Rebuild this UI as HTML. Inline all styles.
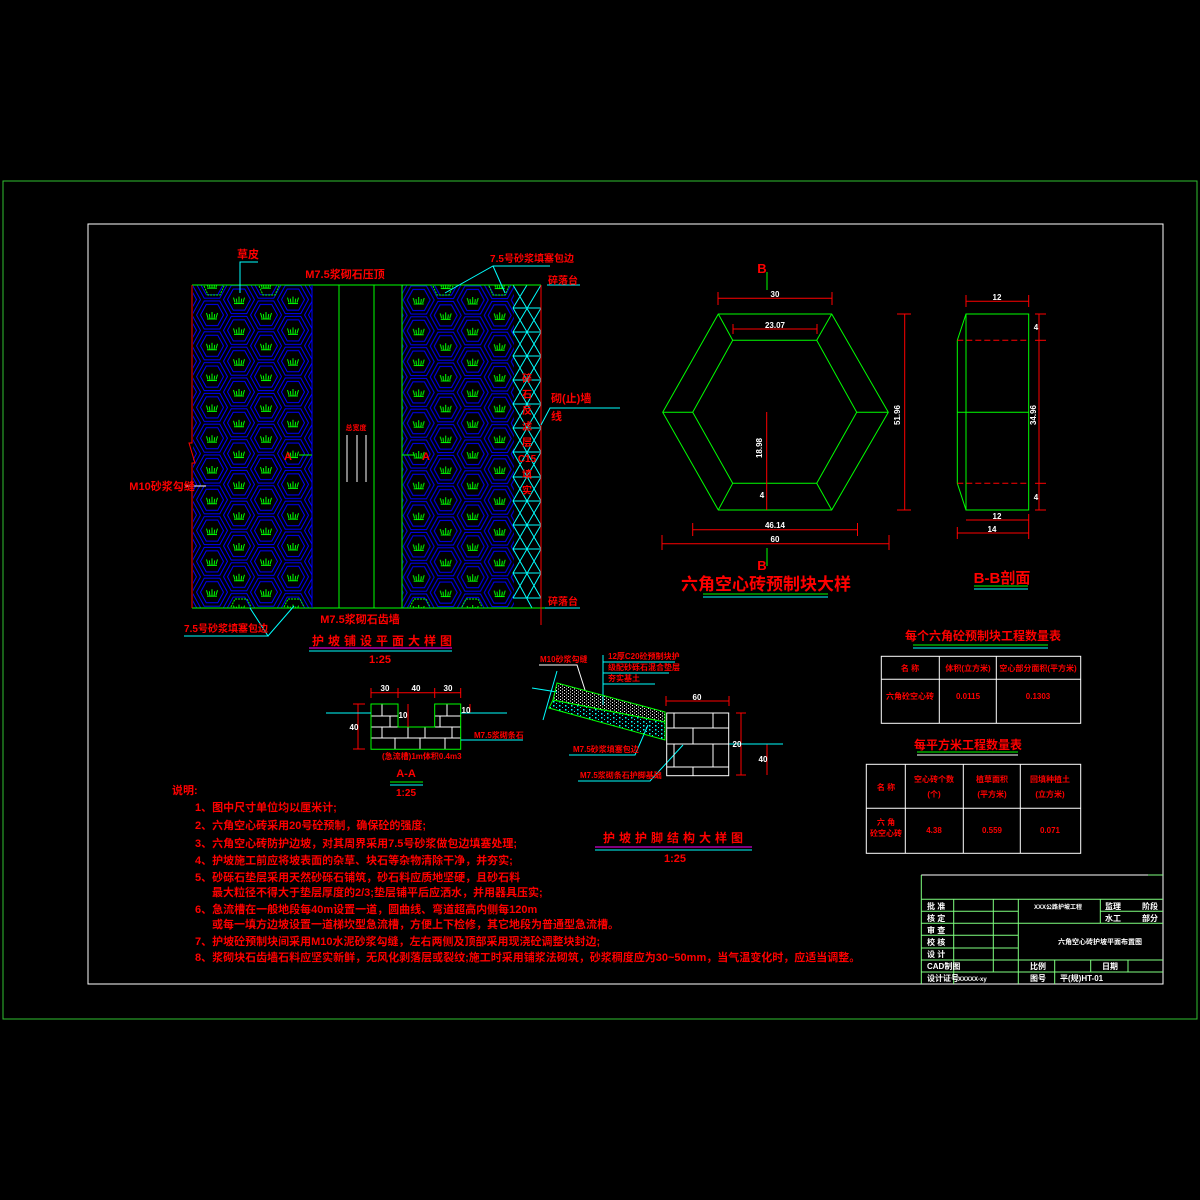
<!DOCTYPE html>
<html><head><meta charset="utf-8">
<style>
html,body{margin:0;padding:0;background:#000;}
svg{display:block;}
text{font-family:"Liberation Sans","Noto Sans CJK SC",sans-serif;font-weight:bold;}
.r{fill:#ff0000;}
.w{fill:#fff;}
</style></head>
<body>
<svg width="1200" height="1200" viewBox="0 0 1200 1200" xmlns="http://www.w3.org/2000/svg">
<defs>
<g id="cell">
<polygon points="-15.5,0 -7.75,-14 7.75,-14 15.5,0 7.75,14 -7.75,14" fill="none" stroke="#0000ff"/>
<polygon points="-11.5,0 -5.75,-10.5 5.75,-10.5 11.5,0 5.75,10.5 -5.75,10.5" fill="none" stroke="#0000ff"/>
<path d="M-5,4h10M0,4v-7M-4,3l-1.5,-5M4,3l1.5,-5M-2,4l-0.7,-5M2,4l0.7,-5" stroke="#00ff00" fill="none"/>
</g>
<pattern id="pl" patternUnits="userSpaceOnUse" x="198.5" y="299.6" width="54" height="30.8">
<use href="#cell" x="13.5" y="15.4"/><use href="#cell" x="67.5" y="15.4"/>
<use href="#cell" x="40.5" y="0"/><use href="#cell" x="40.5" y="30.8"/>
<use href="#cell" x="-13.5" y="0"/><use href="#cell" x="-13.5" y="30.8"/>
</pattern>
<pattern id="pr" patternUnits="userSpaceOnUse" x="405.2" y="284.6" width="54" height="30.8">
<use href="#cell" x="13.5" y="15.4"/><use href="#cell" x="67.5" y="15.4"/>
<use href="#cell" x="40.5" y="0"/><use href="#cell" x="40.5" y="30.8"/>
<use href="#cell" x="-13.5" y="0"/><use href="#cell" x="-13.5" y="30.8"/>
</pattern>
<pattern id="dw" patternUnits="userSpaceOnUse" width="4" height="3">
<rect x="0" y="0" width="1" height="1" fill="#fff"/><rect x="2" y="1.5" width="1" height="1" fill="#fff"/>
</pattern>
<pattern id="dc" patternUnits="userSpaceOnUse" width="6" height="4">
<rect x="1" y="1" width="1.5" height="1.5" fill="#00ffff"/><rect x="4" y="3" width="1" height="1" fill="#00ffff"/>
</pattern>
</defs>
<rect width="1200" height="1200" fill="#000"/>
<rect x="3" y="181" width="1194" height="838" fill="none" stroke="#2fbf2f" stroke-width="1"/>
<rect x="88" y="224" width="1075" height="760" fill="none" stroke="#fff" stroke-width="1"/>

<rect x="193" y="285" width="119" height="323" fill="url(#pl)"/>
<rect x="402" y="285" width="112" height="323" fill="url(#pr)"/>

<g fill="none" stroke="#00ff00" stroke-dasharray="2,1">
<path d="M204,286l4,9h12l4,-9M259,286l4,9h12l4,-9M433,286l4,9h12l4,-9M489,286l4,9h12l4,-9"/>
<path d="M231,607l4,-8h12l4,8M284,607l4,-8h12l4,8M410,607l4,-8h12l4,8M462,607l4,-8h12l4,8"/>
</g>

<path fill="none" stroke="#00ffff" d="M513,308H541M513,332H541M513,356H541M513,380H541M513,404H541M513,428H541M513,452H541M513,477H541M513,501H541M513,525H541M513,549H541M513,573H541M513,598H541
M541,285L513,332L541,380L513,428L541,477L513,525L541,573L527,598
M513,308L541,356L513,404L541,452L513,501L541,549L513,598
M527,285L513,308M513,285L541,332L513,380L541,428L513,477L541,525L513,573L532,608
M541,308L513,356L541,404L513,452L541,501L513,549L541,598"/>

<g fill="none" stroke-width="1">
<line x1="192" y1="285" x2="541" y2="285" stroke="#00ff00"/>
<line x1="192" y1="608" x2="580" y2="608" stroke="#00ff00"/>
<polyline points="192,285 192,443 189,443 195,463 192,463 192,608" stroke="#ff0000"/>
<line x1="541" y1="285" x2="541" y2="625" stroke="#ff0000"/>
<line x1="312" y1="285" x2="312" y2="608" stroke="#0000ff"/>
<line x1="339" y1="285" x2="339" y2="608" stroke="#00ff00"/>
<line x1="374" y1="285" x2="374" y2="608" stroke="#00ff00"/>
<line x1="402" y1="285" x2="402" y2="608" stroke="#00ff00"/>
<line x1="347" y1="435" x2="347" y2="482" stroke="#fff"/>
<line x1="357" y1="435" x2="357" y2="482" stroke="#fff"/>
<line x1="366" y1="435" x2="366" y2="482" stroke="#fff"/>
<line x1="299" y1="455" x2="312" y2="455" stroke="#00ff00"/>
<line x1="402" y1="455" x2="415" y2="455" stroke="#00ff00"/>
<polyline points="258,262 240,262 240,293" stroke="#00ffff"/>
<polyline points="550,266 493,266 445,293" stroke="#00ffff"/>
<line x1="493" y1="266" x2="505" y2="293" stroke="#00ffff"/>
<line x1="547" y1="285" x2="580" y2="285" stroke="#00ffff"/>
<line x1="545" y1="608" x2="580" y2="608" stroke="#00ffff"/>
<polyline points="184,636 268,636 250,608" stroke="#00ffff"/>
<line x1="268" y1="636" x2="294" y2="606" stroke="#00ffff"/>
<polyline points="620,408 550,408 541,425" stroke="#00ffff"/>
<line x1="185" y1="486" x2="206" y2="486" stroke="#fff"/>
<line x1="309" y1="648" x2="452" y2="648" stroke="#ff00ff"/>
<line x1="309" y1="651" x2="452" y2="651" stroke="#00ffff"/>
</g>

<text x="248" y="258" class="r" font-size="11" text-anchor="middle">草皮</text>
<text x="345" y="278" class="r" font-size="11" text-anchor="middle">M7.5浆砌石压顶</text>
<text x="532" y="262" class="r" font-size="10" text-anchor="middle">7.5号砂浆填塞包边</text>
<text x="563" y="284" class="r" font-size="10" text-anchor="middle">碎落台</text>
<text x="551" y="402" class="r" font-size="11">砌(止)墙</text>
<text x="551" y="420" class="r" font-size="11">线</text>
<text x="162" y="490" class="r" font-size="11" text-anchor="middle">M10砂浆勾缝</text>
<text x="356" y="430" class="r" font-size="7" text-anchor="middle">总宽度</text>
<text x="288" y="460" class="r" font-size="11" text-anchor="middle">A</text>
<text x="426" y="460" class="r" font-size="11" text-anchor="middle">A</text>
<text x="563" y="605" class="r" font-size="10" text-anchor="middle">碎落台</text>
<text x="360" y="623" class="r" font-size="11" text-anchor="middle">M7.5浆砌石齿墙</text>
<text x="226" y="632" class="r" font-size="10" text-anchor="middle">7.5号砂浆填塞包边</text>
<text x="384" y="645" class="r" font-size="12" text-anchor="middle" letter-spacing="4">护坡铺设平面大样图</text>
<text x="380" y="663" class="r" font-size="11" text-anchor="middle">1:25</text>
<g class="r" font-size="10" text-anchor="middle">
<text x="527" y="382">碎</text><text x="527" y="398">石</text><text x="527" y="414">反</text><text x="527" y="430">滤</text><text x="527" y="446">层</text><text x="527" y="462">C15</text><text x="527" y="478">填</text><text x="527" y="494">实</text>
</g>

<g stroke="#00ff00" fill="none">
<polygon points="718.3,314 831.7,314 888.3,412.3 831.7,510 718.3,510 662.7,412.3"/>
<polygon points="732.7,340.3 816.7,340.3 856.7,412.3 816.7,483.3 732.7,483.3 692.7,412.3"/>
<line x1="718.3" y1="314" x2="732.7" y2="340.3"/><line x1="831.7" y1="314" x2="816.7" y2="340.3"/>
<line x1="888.3" y1="412.3" x2="856.7" y2="412.3"/><line x1="831.7" y1="510" x2="816.7" y2="483.3"/>
<line x1="718.3" y1="510" x2="732.7" y2="483.3"/><line x1="662.7" y1="412.3" x2="692.7" y2="412.3"/>
<line x1="767" y1="272" x2="767" y2="290"/><line x1="767" y1="548" x2="767" y2="566"/>
<rect x="966" y="314" width="62.7" height="196"/>
<polyline points="966,314 957.3,340.3 957.3,483.3 966,510"/>
<line x1="957.3" y1="412.3" x2="1028.7" y2="412.3"/>
</g>
<g stroke="#ff0000" fill="none">
<line x1="957.3" y1="340.3" x2="1028.7" y2="340.3" stroke-dasharray="6,3"/>
<line x1="957.3" y1="483.3" x2="1028.7" y2="483.3" stroke-dasharray="6,3"/>
<line x1="718" y1="298.3" x2="832" y2="298.3"/><line x1="718" y1="292" x2="718" y2="305"/><line x1="832" y1="292" x2="832" y2="305"/>
<line x1="733" y1="329" x2="817" y2="329"/><line x1="733" y1="324" x2="733" y2="334"/><line x1="817" y1="324" x2="817" y2="334"/>
<line x1="692.7" y1="529.7" x2="857.5" y2="529.7"/><line x1="692.7" y1="523" x2="692.7" y2="536"/><line x1="857.5" y1="523" x2="857.5" y2="536"/>
<line x1="662" y1="543.7" x2="889" y2="543.7"/><line x1="662" y1="535" x2="662" y2="550"/><line x1="889" y1="535" x2="889" y2="550"/>
<line x1="904.7" y1="314" x2="904.7" y2="510"/><line x1="897" y1="314" x2="911" y2="314"/><line x1="897" y1="510" x2="911" y2="510"/>
<line x1="766.7" y1="412" x2="766.7" y2="510"/>
<line x1="966" y1="301.3" x2="1028.7" y2="301.3"/><line x1="966" y1="295" x2="966" y2="307"/><line x1="1028.7" y1="295" x2="1028.7" y2="307"/>
<line x1="966" y1="520" x2="1028.7" y2="520"/><line x1="957.3" y1="533" x2="1028.7" y2="533"/><line x1="957.3" y1="527" x2="957.3" y2="539"/><line x1="1028.7" y1="514" x2="1028.7" y2="539"/>
<line x1="1039" y1="314" x2="1039" y2="510"/><line x1="1035" y1="314" x2="1046" y2="314"/><line x1="1035" y1="340.3" x2="1046" y2="340.3"/><line x1="1035" y1="483.3" x2="1046" y2="483.3"/><line x1="1035" y1="510" x2="1046" y2="510"/>
</g>
<g class="w" font-size="8" text-anchor="middle">
<text x="775" y="297">30</text><text x="775" y="328">23.07</text><text x="775" y="528">46.14</text><text x="775" y="542">60</text>
<text x="900" y="415" transform="rotate(-90 900 415)">51.96</text>
<text x="762" y="448" transform="rotate(-90 762 448)">18.98</text>
<text x="762" y="498">4</text>
<text x="997" y="300">12</text><text x="997" y="519">12</text><text x="992" y="532">14</text>
<text x="1036" y="415" transform="rotate(-90 1036 415)">34.96</text>
<text x="1036" y="330">4</text><text x="1036" y="500">4</text>
</g>
<text x="762" y="273" class="r" font-size="13" text-anchor="middle">B</text>
<text x="762" y="570" class="r" font-size="13" text-anchor="middle">B</text>
<text x="766" y="590" class="r" font-size="17" text-anchor="middle">六角空心砖预制块大样</text>
<line x1="703" y1="594" x2="828" y2="594" stroke="#00ff00"/><line x1="703" y1="597" x2="828" y2="597" stroke="#00ffff"/>
<text x="1002" y="583" class="r" font-size="15" text-anchor="middle">B-B剖面</text>
<line x1="974" y1="586" x2="1028" y2="586" stroke="#00ff00"/><line x1="974" y1="589" x2="1028" y2="589" stroke="#00ffff"/>

<path stroke="#fff" fill="none" d="M371,716H398M371,727H398M371,738H460.7M434.7,716H460.7M434.7,727H460.7M382,704V716M390,716V727M382,727V738M447,704V716M440,716V727M452,727V738M395,738V749M420,738V749M445,738V749M408,727V738M425,727V738"/>
<path d="M371,704H398V727H434.7V704H460.7V749.3H371Z" fill="none" stroke="#00ff00"/>
<g stroke="#ff0000" fill="none">
<line x1="371" y1="692.7" x2="460.7" y2="692.7"/>
<line x1="371" y1="688" x2="371" y2="698"/><line x1="398" y1="688" x2="398" y2="698"/><line x1="434.7" y1="688" x2="434.7" y2="698"/><line x1="460.7" y1="688" x2="460.7" y2="698"/>
<line x1="358" y1="704" x2="358" y2="749"/><line x1="353" y1="704" x2="365" y2="704"/><line x1="353" y1="749" x2="365" y2="749"/>
<line x1="408" y1="704" x2="408" y2="727"/>
<line x1="470" y1="704" x2="470" y2="713"/>
<line x1="666" y1="701" x2="729" y2="701"/><line x1="666" y1="696" x2="666" y2="706"/><line x1="729" y1="696" x2="729" y2="706"/>
<line x1="741" y1="713" x2="741" y2="775"/><line x1="736" y1="713" x2="746" y2="713"/><line x1="736" y1="775" x2="746" y2="775"/>
<line x1="767" y1="744" x2="767" y2="775"/>
</g>
<g stroke="#00ffff" fill="none">
<line x1="326" y1="713" x2="371" y2="713"/><line x1="460.7" y1="713" x2="507" y2="713"/>
<line x1="460.7" y1="740" x2="523" y2="740"/>
<line x1="532" y1="688" x2="557" y2="692"/>
<line x1="603" y1="655" x2="603" y2="705"/>
<line x1="603" y1="662" x2="675" y2="662"/><line x1="603" y1="673" x2="669" y2="673"/><line x1="603" y1="684" x2="655" y2="684"/>
<polyline points="569,755 635,755 648,725"/>
<polyline points="578,781 650,781 683,745"/>
<line x1="729" y1="744" x2="783" y2="744"/>
<line x1="557" y1="671" x2="543" y2="720"/>
</g>
<polyline points="539,665 577,665 585,690" stroke="#fff" fill="none"/>
<polygon points="557,683 665,712 665,722 553,700" fill="url(#dw)" stroke="#00ff00"/>
<polygon points="553,700 665,722 665,740 549,708" fill="url(#dc)" stroke="#00ff00"/>
<rect x="666.7" y="713" width="62" height="62.7" fill="none" stroke="#fff"/>
<path d="M666.7,728H728.7M666.7,744H728.7M666.7,767H728.7M674,713V728M713,713V728M693,728V744M674,744V767M713,744V767M693,767V775.7" stroke="#fff" fill="none"/>

<g class="w" font-size="8" text-anchor="middle">
<text x="385" y="691">30</text><text x="416" y="691">40</text><text x="448" y="691">30</text>
<text x="354" y="730">40</text><text x="403" y="718">10</text><text x="466" y="713">10</text>
<text x="697" y="700">60</text><text x="737" y="747">20</text><text x="763" y="762">40</text>
</g>
<g class="r" font-size="8">
<text x="474" y="738">M7.5浆砌条石</text>
<text x="382" y="759">(急流槽)1m体积0.4m3</text>
<text x="540" y="662">M10砂浆勾缝</text>
<text x="608" y="659">12厚C20砼预制块护</text>
<text x="608" y="670">级配砂砾石混合垫层</text>
<text x="608" y="681">夯实基土</text>
<text x="573" y="752">M7.5砂浆填塞包边</text>
<text x="580" y="778">M7.5浆砌条石护脚基础</text>
</g>
<text x="406" y="777" class="r" font-size="11" text-anchor="middle">A-A</text>
<line x1="390" y1="782" x2="423" y2="782" stroke="#00ff00"/><line x1="390" y1="785" x2="423" y2="785" stroke="#00ffff"/>
<text x="406" y="796" class="r" font-size="10" text-anchor="middle">1:25</text>
<text x="675" y="842" class="r" font-size="12" text-anchor="middle" letter-spacing="4">护坡护脚结构大样图</text>
<line x1="595" y1="847" x2="752" y2="847" stroke="#ff00ff"/><line x1="595" y1="850" x2="752" y2="850" stroke="#00ffff"/>
<text x="675" y="862" class="r" font-size="11" text-anchor="middle">1:25</text>

<g class="r" font-size="11">
<text x="172" y="794">说明:</text>
<text x="195" y="811">1、图中尺寸单位均以厘米计;</text>
<text x="195" y="829">2、六角空心砖采用20号砼预制，确保砼的强度;</text>
<text x="195" y="847">3、六角空心砖防护边坡，对其周界采用7.5号砂浆做包边填塞处理;</text>
<text x="195" y="864">4、护坡施工前应将坡表面的杂草、块石等杂物清除干净，并夯实;</text>
<text x="195" y="881">5、砂砾石垫层采用天然砂砾石铺筑，砂石料应质地坚硬，且砂石料</text>
<text x="212" y="896">最大粒径不得大于垫层厚度的2/3;垫层铺平后应洒水，并用器具压实;</text>
<text x="195" y="913">6、急流槽在一般地段每40m设置一道，圆曲线、弯道超高内侧每120m</text>
<text x="212" y="928">或每一填方边坡设置一道梯坎型急流槽，方便上下检修，其它地段为普通型急流槽。</text>
<text x="195" y="945">7、护坡砼预制块间采用M10水泥砂浆勾缝，左右两侧及顶部采用现浇砼调整块封边;</text>
<text x="195" y="961">8、浆砌块石齿墙石料应坚实新鲜，无风化剥落层或裂纹;施工时采用铺浆法砌筑，砂浆稠度应为30~50mm，当气温变化时，应适当调整。</text>
</g>

<text x="983" y="640" class="r" font-size="12" text-anchor="middle">每个六角砼预制块工程数量表</text>
<line x1="913" y1="645" x2="1048" y2="645" stroke="#00ff00"/><line x1="913" y1="648" x2="1048" y2="648" stroke="#00ffff"/>
<g stroke="#fff" fill="none">
<rect x="881.3" y="656.3" width="199.4" height="67"/>
<line x1="881.3" y1="679.3" x2="1080.7" y2="679.3"/>
<line x1="939.3" y1="656.3" x2="939.3" y2="723.3"/><line x1="996.3" y1="656.3" x2="996.3" y2="723.3"/>
<rect x="866.3" y="764.3" width="214.4" height="89"/>
<line x1="866.3" y1="808.3" x2="1080.7" y2="808.3"/>
<line x1="905.3" y1="764.3" x2="905.3" y2="853.3"/><line x1="963.3" y1="764.3" x2="963.3" y2="853.3"/><line x1="1020.3" y1="764.3" x2="1020.3" y2="853.3"/>
</g>
<g class="r" font-size="8" text-anchor="middle">
<text x="910" y="671">名  称</text><text x="968" y="671">体积(立方米)</text><text x="1038" y="671">空心部分面积(平方米)</text>
<text x="910" y="699">六角砼空心砖</text><text x="968" y="699">0.0115</text><text x="1038" y="699">0.1303</text>
<text x="886" y="790">名  称</text>
<text x="934" y="782">空心砖个数</text><text x="934" y="797">(个)</text>
<text x="992" y="782">植草面积</text><text x="992" y="797">(平方米)</text>
<text x="1050" y="782">回填种植土</text><text x="1050" y="797">(立方米)</text>
<text x="886" y="825">六  角</text><text x="886" y="836">砼空心砖</text>
<text x="934" y="833">4.38</text><text x="992" y="833">0.559</text><text x="1050" y="833">0.071</text>
</g>
<text x="968" y="749" class="r" font-size="12" text-anchor="middle">每平方米工程数量表</text>
<line x1="917" y1="752" x2="1018" y2="752" stroke="#00ff00"/><line x1="917" y1="755" x2="1018" y2="755" stroke="#fff"/>

<g stroke="#7fff7f" fill="none">
<line x1="921.3" y1="875" x2="1148" y2="875" stroke="#fff"/>
<line x1="1148" y1="875" x2="1163" y2="875"/>
<line x1="921.3" y1="875" x2="921.3" y2="984"/>
<line x1="921.3" y1="899.3" x2="1163" y2="899.3"/>
<line x1="921.3" y1="911.3" x2="1018.3" y2="911.3"/><line x1="1100.3" y1="911.3" x2="1163" y2="911.3"/>
<line x1="921.3" y1="923.3" x2="1163" y2="923.3"/>
<line x1="921.3" y1="935.3" x2="1018.3" y2="935.3"/>
<line x1="921.3" y1="948" x2="1018.3" y2="948"/>
<line x1="921.3" y1="960" x2="1163" y2="960"/>
<line x1="921.3" y1="972" x2="1163" y2="972"/>
<line x1="953.7" y1="899.3" x2="953.7" y2="984"/>
<line x1="993.3" y1="899.3" x2="993.3" y2="972"/>
<line x1="1018.3" y1="899.3" x2="1018.3" y2="984"/>
<line x1="1100.3" y1="899.3" x2="1100.3" y2="923.3"/>
<line x1="1054.7" y1="960" x2="1054.7" y2="984"/>
<line x1="1090.7" y1="960" x2="1090.7" y2="972"/>
<line x1="1128" y1="960" x2="1128" y2="972"/>
</g>
<g class="w" font-size="8">
<text x="927" y="909">批  准</text><text x="927" y="921">核  定</text><text x="927" y="933">审  查</text><text x="927" y="945">校  核</text><text x="927" y="957">设  计</text><text x="927" y="969">CAD制图</text><text x="927" y="981">设计证号</text>
<text x="958" y="981" font-size="6">XXXXX-xy</text>
<text x="1034" y="909" font-size="6">XXX公路护坡工程</text>
<text x="1105" y="909">监理</text><text x="1142" y="909">阶段</text>
<text x="1105" y="921">水工</text><text x="1142" y="921">部分</text>
<text x="1058" y="944" font-size="7">六角空心砖护坡平面布置图</text>
<text x="1030" y="969">比例</text><text x="1102" y="969">日期</text>
<text x="1030" y="981">图号</text><text x="1060" y="981">平(规)HT-01</text>
</g>
</svg>
</body></html>
